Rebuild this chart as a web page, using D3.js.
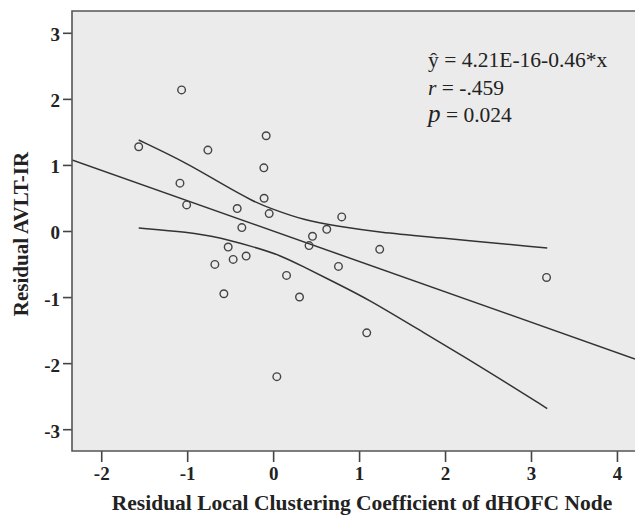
<!DOCTYPE html>
<html lang="en">
  <head>
    <meta charset="UTF-8" />
    <title>Residual scatter</title>
    <style>
      body { margin: 0; background: #fff; }
      svg text { font-family: "Liberation Serif", "Times New Roman", serif; }
    </style>
  </head>
  <body>
    <script src="https://cdn.jsdelivr.net/npm/d3@7"></script>
    <script>
      // residual x / y for each subject
      var xVals = [-1.564, -1.065, -0.081, -0.759, -0.108, -1.084, -0.105, -1.006, -0.418,
                   -0.046, -0.364, -0.523, -0.314, -0.465, -0.678, 0.156, -0.573, 0.307,
                   0.798, 0.624, 0.458, 0.418, 1.240, 0.760, 1.089, 3.181, 0.043];
      var yVals = [1.275, 2.136, 1.442, 1.225, 0.956, 0.724, 0.496, 0.395, 0.340,
                   0.264, 0.052, -0.243, -0.379, -0.430, -0.506, -0.672, -0.950, -0.999,
                   0.213, 0.026, -0.080, -0.221, -0.278, -0.536, -1.541, -0.703, -2.205];

      // fit line end points and 95% CI curves
      var fitLine = [[-2.34, 1.076], [4.21, -1.937]];
      var ciUpperX = [-1.564, -0.995, -0.608, -0.221, -0.027, 0.360, 0.748, 1.252, 1.833, 3.189];
      var ciUpperY = [1.377, 1.023, 0.719, 0.440, 0.340, 0.162, 0.071, -0.024, -0.091, -0.258];
      var ciLowerX = [-1.564, -0.995, -0.608, -0.221, 0.089, 0.360, 0.748, 1.097, 1.716, 2.492, 3.189];
      var ciLowerY = [0.046, -0.015, -0.100, -0.243, -0.369, -0.546, -0.798, -1.026, -1.510, -2.114, -2.687];

      var xTicks = [-2, -1, 0, 1, 2, 3, 4];
      var yTicks = [-3, -2, -1, 0, 1, 2, 3];
      var statLines = ["ŷ = 4.21E-16-0.46*x", "r = -.459", "p = 0.024"];

      var w = 635, h = 517;
      var margin = { top: 11, right: 0, bottom: 66, left: 72 };

      var svg = d3.select("body").append("svg")
                  .attr("width", w)
                  .attr("height", h);

      var xScale = d3.scaleLinear()
                     .domain([-2.34, 4.21])
                     .range([margin.left, w - margin.right]);
      var yScale = d3.scaleLinear()
                     .domain([-3.33, 3.33])
                     .range([h - margin.bottom, margin.top]);

      svg.append("clipPath").attr("id", "plot-clip")
         .append("rect")
         .attr("x", margin.left).attr("y", margin.top)
         .attr("width", w - margin.left - margin.right)
         .attr("height", h - margin.top - margin.bottom);

      svg.append("rect")
         .attr("x", margin.left).attr("y", margin.top)
         .attr("width", w - margin.left - margin.right)
         .attr("height", h - margin.top - margin.bottom)
         .attr("fill", "#ebebeb");

      var plot = svg.append("g").attr("clip-path", "url(#plot-clip)");

      var line = d3.line()
                   .x(function(d) { return xScale(d[0]); })
                   .y(function(d) { return yScale(d[1]); });
      var curve = d3.line()
                    .x(function(d) { return xScale(d[0]); })
                    .y(function(d) { return yScale(d[1]); })
                    .curve(d3.curveBasis);

      plot.append("path").datum(fitLine)
          .attr("d", line)
          .attr("fill", "none").attr("stroke", "#333").attr("stroke-width", 1.5);
      plot.append("path").datum(d3.zip(ciUpperX, ciUpperY))
          .attr("d", curve)
          .attr("fill", "none").attr("stroke", "#333").attr("stroke-width", 1.5);
      plot.append("path").datum(d3.zip(ciLowerX, ciLowerY))
          .attr("d", curve)
          .attr("fill", "none").attr("stroke", "#333").attr("stroke-width", 1.5);

      plot.selectAll("circle")
          .data(d3.zip(xVals, yVals))
          .enter()
          .append("circle")
          .attr("cx", function(d) { return xScale(d[0]); })
          .attr("cy", function(d) { return yScale(d[1]); })
          .attr("r", 3.8)
          .attr("fill", "none")
          .attr("stroke", "#444")
          .attr("stroke-width", 1.4);

      // axes (plain hyphen for negatives, like the original)
      var fmt = function(d) { return String(d); };
      var xAxis = svg.append("g")
                     .attr("transform", "translate(0," + (h - margin.bottom) + ")")
                     .call(d3.axisBottom(xScale).tickValues(xTicks).tickSize(11).tickPadding(5)
                             .tickFormat(fmt));
      var yAxis = svg.append("g")
                     .attr("transform", "translate(" + margin.left + ",0)")
                     .call(d3.axisLeft(yScale).tickValues(yTicks).tickSize(9).tickPadding(3)
                             .tickFormat(fmt));

      [xAxis, yAxis].forEach(function(ax) {
        ax.select(".domain").remove();
        ax.selectAll("line").attr("stroke", "#444").attr("stroke-width", 1.6);
        ax.selectAll("text")
          .attr("fill", "#222")
          .attr("font-size", "19px")
          .attr("font-weight", "bold")
          .attr("font-family", "Liberation Serif, serif");
      });
      yAxis.selectAll("text").attr("dy", "0.42em");

      // plot frame: top, left, bottom
      svg.append("path")
         .attr("d", "M" + w + "," + margin.top + "H" + margin.left +
                    "V" + (h - margin.bottom) + "H" + w)
         .attr("fill", "none").attr("stroke", "#555").attr("stroke-width", 1.6);

      // axis titles
      svg.append("text")
         .attr("x", 362)
         .attr("y", 510)
         .attr("text-anchor", "middle")
         .attr("font-size", "21.5px")
         .attr("font-weight", "bold")
         .attr("fill", "#222")
         .text("Residual Local Clustering Coefficient of dHOFC Node");

      svg.append("text")
         .attr("transform", "translate(28,234) rotate(-90)")
         .attr("text-anchor", "middle")
         .attr("font-size", "21px")
         .attr("font-weight", "bold")
         .attr("fill", "#222")
         .text("Residual AVLT-IR");

      // regression stats
      var stats = svg.append("g");
      stats.selectAll("text")
           .data(statLines)
           .enter()
           .append("text")
           .attr("x", 428)
           .attr("y", function(d, i) { return 67 + i * 27.5; })
           .attr("font-size", "21.5px")
           .attr("fill", "#222")
           .each(function(d, i) {
             var t = d3.select(this);
             if (i === 0) {
               t.text(d);
             } else {
               var parts = d.split(" ");
               t.append("tspan").attr("font-style", "italic")
                .attr("font-size", i === 2 ? "25px" : "21.5px").text(parts[0]);
               t.append("tspan").text(" " + parts.slice(1).join(" "));
             }
           });
    </script>
  </body>
</html>
